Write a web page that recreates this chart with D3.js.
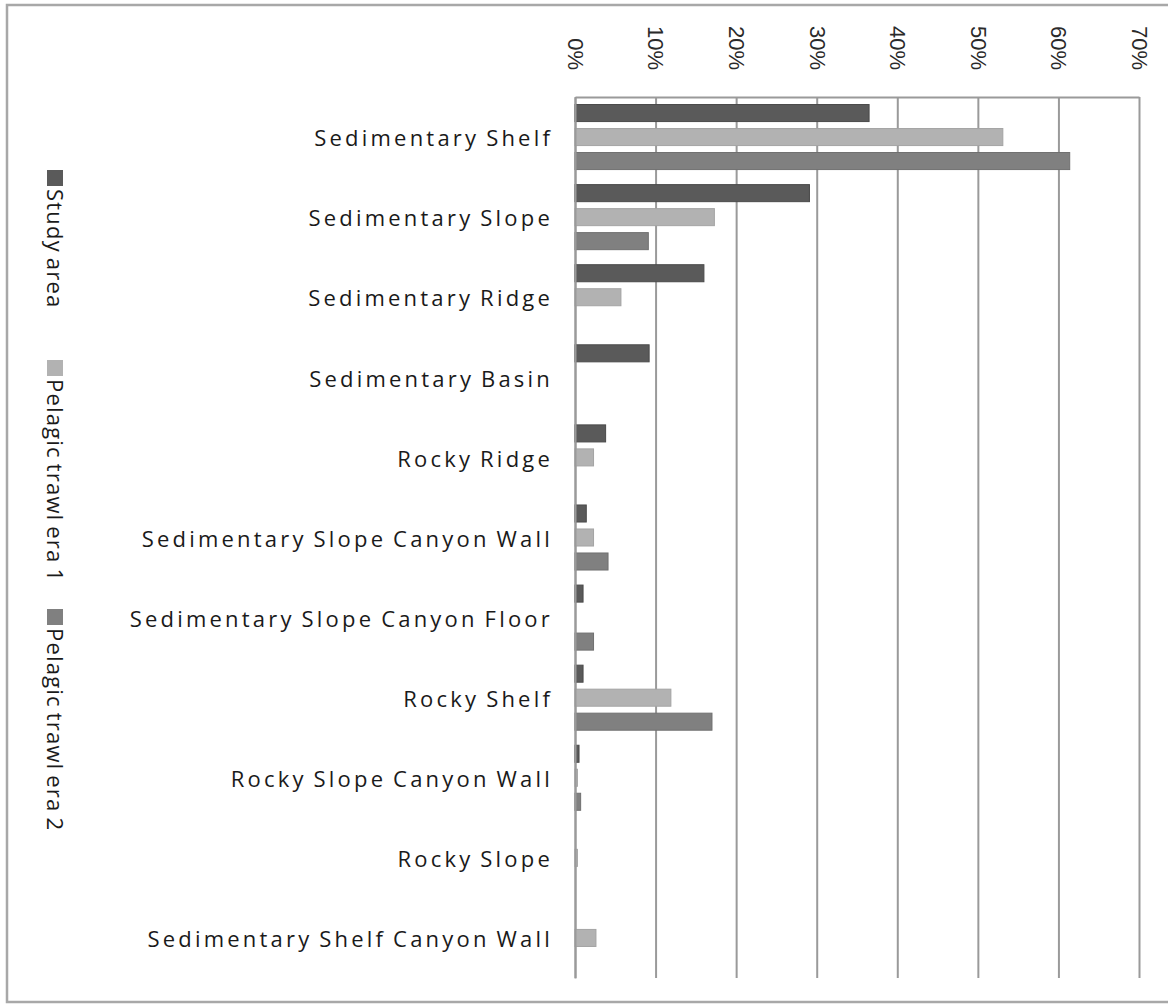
<!DOCTYPE html>
<html>
<head>
<meta charset="utf-8">
<script src="https://cdn.jsdelivr.net/npm/d3@7"></script>
<style>
  html, body { margin: 0; padding: 0; background: #fff; }
  svg { display: block; }
</style>
</head>
<body>
<svg id="chart" width="1168" height="1005"></svg>
<script>
// Habitat categories, top to bottom
const categories = [
  "Sedimentary Shelf",
  "Sedimentary Slope",
  "Sedimentary Ridge",
  "Sedimentary Basin",
  "Rocky Ridge",
  "Sedimentary Slope Canyon Wall",
  "Sedimentary Slope Canyon Floor",
  "Rocky Shelf",
  "Rocky Slope Canyon Wall",
  "Rocky Slope",
  "Sedimentary Shelf Canyon Wall"
];

const seriesNames = ["Study area", "Pelagic trawl era 1", "Pelagic trawl era 2"];

// Share of area / effort in each habitat (fraction)
const studyArea = [0.365, 0.291, 0.160, 0.092, 0.038, 0.014, 0.010, 0.010, 0.005, 0.000, 0.000];
const trawlEra1 = [0.531, 0.173, 0.057, 0.000, 0.023, 0.023, 0.000, 0.119, 0.003, 0.003, 0.026];
const trawlEra2 = [0.614, 0.091, 0.000, 0.000, 0.000, 0.041, 0.023, 0.170, 0.007, 0.000, 0.000];

const xTicks = [0, 0.1, 0.2, 0.3, 0.4, 0.5, 0.6, 0.7];

const seriesValues = [studyArea, trawlEra1, trawlEra2];
const seriesColors = ["#5a5a5a", "#b2b2b2", "#808080"];
const seriesStroke = ["#4a4a4a", "#a4a4a4", "#707070"];

const svg = d3.select("#chart");

// Outer chart frame
svg.append("rect")
  .attr("x", 7).attr("y", 5)
  .attr("width", 1175).attr("height", 997)
  .attr("fill", "none")
  .attr("stroke", "#a8a8a8")
  .attr("stroke-width", 2.5);

const plot = { left: 575, right: 1139, top: 97, bottom: 978 };

const x = d3.scaleLinear().domain([0, 0.7]).range([plot.left, plot.right]);
const y = d3.scaleBand().domain(categories).range([plot.top, plot.bottom]);
const half = 36;
const sub = d3.scaleBand().domain(seriesNames)
  .range([y.bandwidth() / 2 - half, y.bandwidth() / 2 + half])
  .paddingInner(0.29).paddingOuter(0.145);

// Vertical gridlines + top frame line
const grid = svg.append("g")
  .attr("transform", `translate(0,${plot.top})`)
  .call(d3.axisTop(x).tickValues(xTicks).tickSize(-(plot.bottom - plot.top)).tickSizeOuter(0).tickFormat(""));
grid.selectAll("line").attr("stroke", "#9a9a9a").attr("stroke-width", 2);
grid.select(".domain").attr("stroke", "#9a9a9a").attr("stroke-width", 2);

// Rotated percentage labels along the top
const topAxis = svg.append("g")
  .attr("transform", `translate(0,${plot.top})`)
  .call(d3.axisTop(x).tickValues(xTicks).tickSize(0).tickFormat(d3.format(".0%")));
topAxis.select(".domain").remove();
topAxis.selectAll("text")
  .attr("x", 0).attr("y", 0).attr("dy", "0.35em")
  .attr("transform", "translate(0,-27) rotate(90)")
  .attr("text-anchor", "end")
  .attr("font-family", "'Liberation Sans', Arial, sans-serif")
  .attr("font-size", 22)
  .attr("fill", "#2a2a2a");

// Bars
const groups = svg.append("g").selectAll("g")
  .data(categories)
  .join("g")
  .attr("transform", d => `translate(0,${y(d)})`);

groups.selectAll("rect")
  .data((d, i) => seriesNames.map((s, j) => ({ s, j, v: seriesValues[j][i] })).filter(e => e.v > 0))
  .join("rect")
  .attr("x", x(0))
  .attr("y", e => sub(e.s))
  .attr("width", e => x(e.v) - x(0))
  .attr("height", sub.bandwidth())
  .attr("fill", e => seriesColors[e.j])
  .attr("stroke", e => seriesStroke[e.j])
  .attr("stroke-width", 1);

// Left category axis
const leftAxis = svg.append("g")
  .attr("transform", `translate(${plot.left},0)`)
  .call(d3.axisLeft(y).tickSize(0).tickPadding(22));
leftAxis.select(".domain").attr("stroke", "#9a9a9a").attr("stroke-width", 2);
leftAxis.selectAll("text")
  .attr("font-family", "'Open Sans', sans-serif")
  .attr("font-size", 22)
  .attr("font-weight", 500)
  .attr("letter-spacing", "3.2px")
  .attr("word-spacing", "-2px")
  .attr("fill", "#1a1a1a")
  .attr("dy", "0.42em");

// Legend, rotated to read top to bottom
const legendStarts = [170, 360, 609];
const legend = svg.append("g").attr("transform", "translate(55,0) rotate(90)");
const items = legend.selectAll("g")
  .data(seriesNames)
  .join("g")
  .attr("transform", (d, i) => `translate(${legendStarts[i]},0)`);
items.append("rect")
  .attr("x", 0).attr("y", -8)
  .attr("width", 16).attr("height", 16)
  .attr("fill", (d, i) => seriesColors[i]);
items.append("text")
  .attr("x", 19).attr("y", 0).attr("dy", "0.36em")
  .attr("font-family", "'Open Sans', sans-serif")
  .attr("font-size", 22)
  .attr("font-weight", 500)
  .attr("letter-spacing", "1.2px")
  .attr("word-spacing", "-2px")
  .attr("fill", "#1a1a1a")
  .text(d => d);
</script>
</body>
</html>
